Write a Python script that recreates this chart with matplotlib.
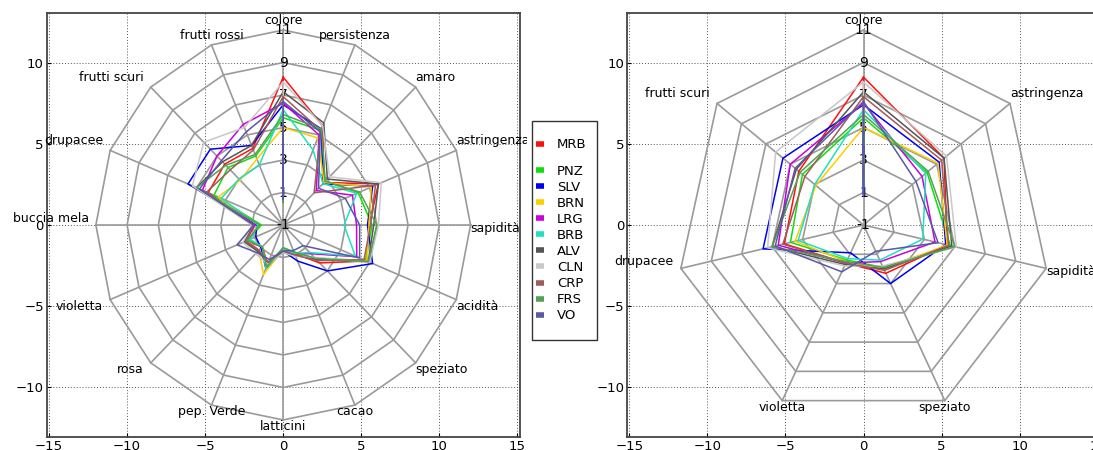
import numpy as np
import matplotlib
matplotlib.use('Agg')
import matplotlib.pyplot as plt
from matplotlib.lines import Line2D
from matplotlib.patches import Rectangle
from matplotlib.transforms import Bbox, TransformedBbox

# descrittori (ordine orario partendo da "colore")
attributi = ['colore', 'persistenza', 'amaro', 'astringenza', 'sapidità', 'acidità',
             'speziato', 'cacao', 'latticini', 'pep. Verde', 'rosa', 'violetta',
             'buccia mela', 'drupacee', 'frutti scuri', 'frutti rossi']
attributi_ridotti = ['colore', 'astringenza', 'sapidità', 'speziato', 'violetta',
                     'drupacee', 'frutti scuri']

vini = ['MRB', 'PNZ', 'SLV', 'BRN', 'LRG', 'BRB', 'ALV', 'CLN', 'CRP', 'FRS', 'VO']
colori = ['#ff1010', '#10dd10', '#0000ee', '#ffcc00', '#cc00dd', '#20e0c0',
          '#555555', '#c8c8c8', '#a05a5a', '#55a055', '#5858a8']

# punteggi medi (stesso ordine di "attributi")
MRB = [8.1, 5.6, 2.7, 5.6, 4.5, 4.8, 2.3, 0.9, 0.6, 1.6, 0.9, 1.6, 0.9, 4.2, 4.3, 4.1]
PNZ = [5.6, 5.3, 2.8, 4.2, 4.7, 4.7, 1.9, 0.8, 0.4, 1.7, 0.9, 1.4, 0.4, 3.8, 4.0, 3.6]
SLV = [6.4, 5.4, 2.6, 5.2, 4.4, 5.2, 3.0, 1.4, 0.6, 1.9, 1.0, 0.9, 0.7, 5.6, 5.6, 4.3]
BRN = [5.0, 4.8, 2.7, 5.1, 4.5, 4.8, 2.0, 1.0, 0.5, 2.3, 1.2, 1.5, 0.6, 3.5, 2.9, 3.4]
LRG = [6.5, 5.0, 2.0, 3.8, 3.7, 4.1, 1.5, 0.9, 0.6, 1.6, 1.2, 1.6, 0.8, 4.6, 5.0, 5.7]
BRB = [6.1, 4.0, 2.6, 4.1, 2.9, 4.0, 1.4, 0.9, 0.5, 1.9, 0.9, 1.3, 0.6, 3.3, 3.0, 3.0]
ALV = [7.2, 5.8, 3.0, 5.6, 4.8, 4.9, 2.0, 1.0, 0.7, 1.5, 1.3, 1.7, 0.9, 5.0, 4.5, 4.3]
CLN = [7.8, 5.6, 3.2, 5.8, 5.1, 5.0, 1.8, 1.1, 0.7, 1.6, 1.5, 1.8, 1.0, 5.3, 6.2, 5.5]
CRP = [6.9, 5.3, 1.8, 5.4, 4.6, 4.6, 2.1, 1.0, 0.6, 1.5, 1.2, 1.6, 0.9, 4.3, 3.8, 4.0]
FRS = [5.8, 5.4, 2.8, 4.3, 5.0, 4.9, 1.9, 0.8, 0.4, 1.8, 0.9, 1.5, 0.5, 5.0, 4.2, 3.7]
VO = [6.6, 5.2, 2.2, 3.3, 3.9, 4.3, 0.8, 0.7, 0.6, 1.3, 1.4, 2.2, 0.9, 4.8, 4.6, 5.2]
punteggi = [MRB, PNZ, SLV, BRN, LRG, BRB, ALV, CLN, CRP, FRS, VO]

livelli = [-1, 1, 3, 5, 7, 9, 11]
vmin = -1


def radar(ax, labels, clip=None):
    n = len(labels)
    ang = np.pi / 2 - 2 * np.pi * np.arange(n) / n
    ca, sa = np.cos(ang), np.sin(ang)
    # anelli e raggi
    for lv in livelli[1:]:
        r = lv - vmin
        ax.plot(np.r_[r * ca, r * ca[0]], np.r_[r * sa, r * sa[0]],
                color='#9a9a9a', lw=1.2, zorder=2)
    rmax = livelli[-1] - vmin
    for c, s in zip(ca, sa):
        ax.plot([0, rmax * c], [0, rmax * s], color='#9a9a9a', lw=1.2, zorder=2)
    for lv in livelli:
        ax.text(0, lv - vmin, str(lv), ha='center', va='center', fontsize=10, zorder=3)
    # etichette degli assi
    for lab, c, s in zip(labels, ca, sa):
        ha = 'center' if abs(c) < 0.5 else ('left' if c > 0 else 'right')
        va = 'bottom' if s > 0.3 else ('top' if s < -0.3 else 'center')
        dx = -0.45 if ha == 'right' else 0
        if va == 'center':
            dy = 0.4 if c < 0 else -0.2
        else:
            dy = 0.2 if va == 'bottom' else 0
        t = ax.text(rmax * c + dx, rmax * s + dy, lab, ha=ha, va=va, fontsize=9, zorder=5)
        if clip is not None:
            t.set_clip_box(clip)
            t.set_clip_on(True)
        else:
            t.set_clip_on(False)
    # serie
    idx = [attributi.index(l) for l in labels]
    for vals, col in zip(punteggi, colori):
        r = np.array([vals[i] for i in idx]) - vmin
        ax.plot(np.r_[r * ca, r * ca[0]], np.r_[r * sa, r * sa[0]],
                color=col, lw=1.1, zorder=4)
    ax.set_xlim(-15.15, 15.15)
    ax.set_ylim(-13.05, 13.05)
    ax.set_xticks([-15, -10, -5, 0, 5, 10, 15])
    ax.set_yticks([-10, -5, 0, 5, 10])
    ax.grid(True, linestyle=(0, (1, 2)), color='#555555', lw=0.7)
    ax.tick_params(labelsize=9.5, direction='in', length=3, pad=2)
    for sp in ax.spines.values():
        sp.set_color('#444444')
        sp.set_linewidth(1.3)


fig = plt.figure(figsize=(10.93, 4.5), dpi=100, facecolor='white')
ax1 = fig.add_axes([46.7 / 1093, 13 / 450, 473 / 1093, 424 / 450])
ax2 = fig.add_axes([627 / 1093, 13 / 450, 473 / 1093, 424 / 450])

taglio = TransformedBbox(Bbox([[0, 0], [527 / 1093, 1]]), fig.transFigure)
radar(ax1, attributi, clip=taglio)
radar(ax2, attributi_ridotti)

# legenda con cornice disegnata a parte (MRB staccata dalle altre)
fig.patches.append(Rectangle((532 / 1093, 1 - 340 / 450), 65 / 1093, 219 / 450,
                             transform=fig.transFigure, fill=False,
                             edgecolor='#333333', lw=1.0))
maniglie = [Line2D([], [], color=c, lw=4, solid_capstyle='butt') for c in colori]
opz = dict(loc='upper left', fontsize=9.5, handlelength=0.6, handletextpad=1.0,
           labelspacing=0.235, borderpad=0, borderaxespad=0, frameon=False)
fig.legend(maniglie[:1], vini[:1], bbox_to_anchor=(536 / 1093, 1 - 138.5 / 450), **opz)
fig.legend(maniglie[1:], vini[1:], bbox_to_anchor=(536 / 1093, 1 - 164.5 / 450), **opz)

fig.savefig('out.png', dpi=100, facecolor='white')
